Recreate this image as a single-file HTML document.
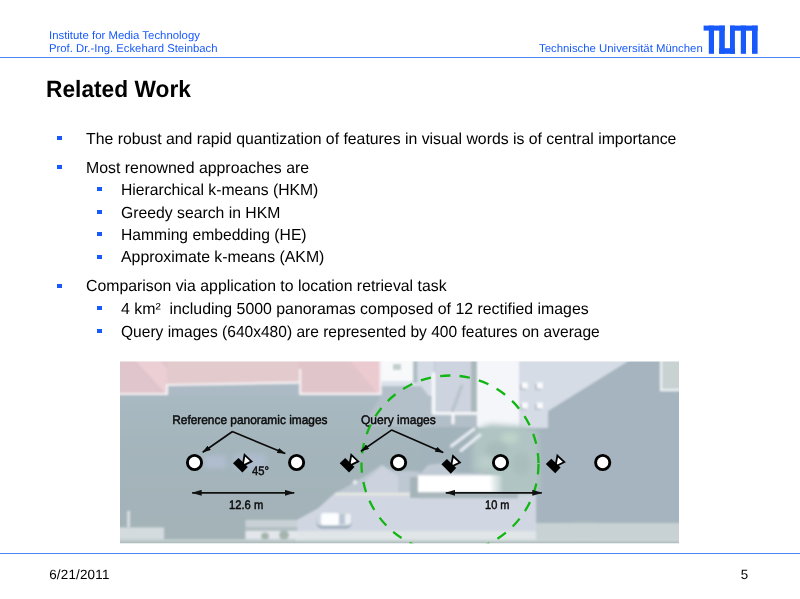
<!DOCTYPE html>
<html><head><meta charset="utf-8">
<style>
html,body{margin:0;padding:0;background:#fff;}
body{width:800px;height:599px;position:relative;overflow:hidden;font-family:"Liberation Sans",sans-serif;color:#000;text-rendering:geometricPrecision;}
.t{position:absolute;white-space:nowrap;line-height:1;}
.hdr{font-size:11.3px;color:#1759fb;transform:scaleX(1.007);transform-origin:0 0;}
.b1{font-size:16px;transform:scaleX(0.9878);transform-origin:0 0;}
.bul{position:absolute;width:4.2px;height:4.2px;margin-left:0.4px;background:#1759fb;}
.hl{position:absolute;left:0;width:800px;height:1.3px;background:#4f86f7;}
#wrap{position:absolute;left:0;top:0;width:800px;height:599px;will-change:transform;}
</style></head><body><div id="wrap">
<div class="t hdr" style="left:48.7px;top:31.3px;">Institute for Media Technology</div>
<div class="t hdr" style="left:48.7px;top:44.3px;transform:scaleX(1.001);">Prof. Dr.-Ing. Eckehard Steinbach</div>
<div class="t hdr" style="left:539px;top:44.3px;">Technische Universität München</div>
<svg style="position:absolute;left:0;top:0" width="800" height="599" viewBox="0 0 800 599">
<defs>
<clipPath id="pc"><rect x="120" y="361.6" width="559" height="181.7"/></clipPath>
<filter id="bl" x="-5%" y="-5%" width="110%" height="110%"><feGaussianBlur stdDeviation="0.9"/></filter>
<filter id="bl2" x="-20%" y="-20%" width="140%" height="140%"><feGaussianBlur stdDeviation="2.5"/></filter>
<marker id="ah" viewBox="0 0 10 6" refX="9.5" refY="3" markerWidth="10" markerHeight="6" orient="auto-start-reverse" markerUnits="userSpaceOnUse"><path d="M0,0 L10,3 L0,6 Z" fill="#111"/></marker>
<linearGradient id="gsh" gradientUnits="userSpaceOnUse" x1="0" y1="394" x2="0" y2="520"><stop offset="0" stop-color="#a9b9c2"/><stop offset="0.4" stop-color="#a5b5bc"/><stop offset="1" stop-color="#a3b3b8"/></linearGradient>
<marker id="ah2" viewBox="0 0 8.6 5.4" refX="8" refY="2.7" markerWidth="8.6" markerHeight="5.4" orient="auto" markerUnits="userSpaceOnUse"><path d="M0,0 L8.6,2.7 L0,5.4 Z" fill="#0a0a0a"/></marker>
<linearGradient id="gtr" x1="0" y1="0" x2="1" y2="0"><stop offset="0" stop-color="#fff"/><stop offset="1" stop-color="#fff" stop-opacity="0.15"/></linearGradient>
<linearGradient id="gbd" gradientUnits="userSpaceOnUse" x1="0" y1="370" x2="0" y2="520"><stop offset="0" stop-color="#a1b1b9"/><stop offset="1" stop-color="#9cabaf"/></linearGradient>
</defs>
<!-- LOGO -->
<g fill="#1759fb">
<rect x="703.6" y="25.6" width="21.2" height="5"/>
<rect x="708.8" y="25.6" width="5.2" height="28.2"/>
<rect x="719.2" y="25.6" width="5.6" height="28.2"/>
<rect x="719.2" y="48.2" width="15.7" height="5.6"/>
<rect x="730.0" y="25.6" width="4.9" height="28.2"/>
<rect x="730.0" y="25.6" width="27.6" height="5.1"/>
<rect x="740.8" y="25.6" width="5.2" height="28.2"/>
<rect x="752.0" y="25.6" width="5.6" height="28.2"/>
</g>
<!-- PHOTO -->
<g clip-path="url(#pc)">
<g filter="url(#bl)">
<!--PS--><rect x="110" y="355" width="580" height="200" fill="url(#gsh)"/>
<!-- bluish window patches near circles -->
<g filter="url(#bl2)" opacity="0.8">
<rect x="204" y="456" width="22" height="12" fill="#b3c0d6"/>
<rect x="234" y="454" width="32" height="16" fill="#afbdd2"/>
</g>
<!-- road / lighter lower area -->
<polygon points="296,520.5 318,508.5 334,494 540,494 540,532 296,532" fill="#d1d7e2"/>
<!-- lighter zone under peaks -->
<polygon points="334,494 364.4,476.6 382.2,464.4 393,471 410,471 420,472 540,472 540,494" fill="#bec8d2"/>
<polygon points="366,480 382.2,466.5 398,476 398,492 366,492" fill="#ccd3df"/>
<circle cx="355" cy="482.2" r="2.2" fill="#e6ecf0"/>
<!-- right dark building -->
<polygon points="536,432 548,411 628,361 690,361 690,523 536,523" fill="#a5b4be"/>
<!-- top middle light zone -->
<rect x="380" y="360" width="33" height="21" fill="#f8f9fb"/>
<rect x="393" y="364" width="8" height="6" fill="#c2cfcb"/>
<rect x="381" y="381" width="40" height="6" fill="#dbe2ea"/>
<rect x="381" y="386.5" width="40" height="10" fill="#b5c2ca"/>
<rect x="413" y="360" width="5" height="23" fill="#afbec3"/>
<rect x="417.5" y="360" width="17" height="36" fill="#d4dbe5"/>
<polygon points="421,386 432,400 432,426 362,426 381,396 381,386" fill="#b3c0c9"/>
<rect x="435" y="360" width="36" height="54" fill="#cdd3df"/>
<path d="M462,385 L452,412" stroke="#b5c3c8" stroke-width="3"/>
<rect x="471" y="360" width="6" height="54" fill="#aab9bb"/>
<rect x="420" y="414" width="57" height="14" fill="#b3bfc8"/>
<rect x="431.7" y="372.5" width="3.6" height="41" fill="#f6f8fa"/>
<rect x="432" y="412" width="46" height="2.8" fill="#f6f8fa"/>
<rect x="451.5" y="414" width="3" height="10" fill="#f6f8fa"/>
<rect x="477" y="360" width="43" height="68" fill="#f5f6fa"/>
<!-- light grey roof right top -->
<polygon points="519,360 630,360 548,411 548,428 519,428" fill="#d5dce6"/>
<rect x="520.0" y="384.0" width="6" height="6" fill="#b4bcc6"/><rect x="521.8" y="382.5" width="6" height="6" fill="#fafbfd"/>
<rect x="535.0" y="384.0" width="6" height="6" fill="#b4bcc6"/><rect x="536.8" y="382.5" width="6" height="6" fill="#fafbfd"/>
<rect x="520.0" y="404.0" width="6" height="6" fill="#b4bcc6"/><rect x="521.8" y="402.5" width="6" height="6" fill="#fafbfd"/>
<rect x="535.0" y="404.0" width="6" height="6" fill="#b4bcc6"/><rect x="536.8" y="402.5" width="6" height="6" fill="#fafbfd"/>
<!-- top right light rect -->
<rect x="661" y="360" width="20" height="30" fill="#c8d2d2"/>
<rect x="660" y="360" width="2.2" height="31" fill="#eef2f4"/>
<rect x="660" y="389" width="20" height="2.2" fill="#eef2f4"/>
<!-- trees -->
<rect x="420" y="427" width="58" height="46" fill="#a3b3bb"/>
<polygon points="420,474 428,465 443,463 456,474" fill="#c0cad4"/>
<g filter="url(#bl2)">
<path d="M474,430 L490,424 L520,426 L538,432 L540,492 L500,496 L486,476 L472,470 Z" fill="#b0c5c3"/>
<ellipse cx="497" cy="450" rx="12" ry="9" fill="#a8bdbb"/>
<ellipse cx="521" cy="464" rx="10" ry="12" fill="#aabfbd"/>
<ellipse cx="510" cy="438" rx="9" ry="6" fill="#bed3c9"/>
<ellipse cx="486" cy="462" rx="7" ry="6" fill="#bccfcc"/>
<ellipse cx="425" cy="537" rx="18" ry="4" fill="#ccd8d0"/>
<ellipse cx="583" cy="533" rx="20" ry="10" fill="#b2c5ba"/>
</g>
<!-- white streaks -->
<path d="M451.5,446 L474,429 M461,450.5 L480,435" stroke="#e6ecf2" stroke-width="3" stroke-linecap="round"/>
<!-- truck -->
<rect x="410" y="477" width="9" height="21" fill="#a5b4b8"/>
<rect x="418" y="475.3" width="72" height="17" fill="#ffffff"/><rect x="489" y="475.3" width="13" height="17" fill="url(#gtr)"/>
<rect x="418" y="492.3" width="100" height="6" fill="#a9b7bd"/>
<!-- curb line -->
<rect x="335" y="492.6" width="75" height="2.8" fill="#e6e8e2"/>
<!-- car -->
<rect x="316.5" y="513" width="35" height="15.5" rx="5" fill="#9aabb9"/>
<rect x="316.5" y="512" width="35" height="14" rx="5" fill="#cfd8e1"/>
<rect x="321" y="513" width="18" height="12" rx="2.5" fill="#fcfdff"/>
<rect x="339" y="514" width="6" height="10" rx="1.5" fill="#b9c6d4"/>
<rect x="345" y="513.5" width="6" height="11" rx="3" fill="#edf1f5"/>
<!-- bottom strip -->
<rect x="296" y="531" width="400" height="13" fill="#e0e5e8"/>
<rect x="536" y="523" width="150" height="20" fill="#c8d2d4"/>
<rect x="110" y="527.5" width="54" height="11.5" fill="#d4dbde"/>
<rect x="127.5" y="511" width="2.2" height="16" fill="#e3e8ea"/>
<rect x="245.5" y="520" width="52" height="7.5" fill="#c9d1d5"/>
<rect x="245.5" y="527.5" width="52" height="3.5" fill="#b2bfc3"/>
<rect x="245.5" y="531" width="52" height="8" fill="#e3e7eb"/>
<ellipse cx="265" cy="536" rx="4" ry="3.5" fill="#a5b5ae"/>
<ellipse cx="284" cy="535" rx="5" ry="4.5" fill="#a5b5ae"/>
<rect x="110" y="539.5" width="580" height="2" fill="#d0d9da"/>
<rect x="110" y="541.5" width="580" height="2.5" fill="#abbaba"/>
<!-- pink roofs -->
<rect x="110" y="384" width="272" height="11" fill="#abbac4"/>
<polygon points="110,355 380,355 380,382 299,382.6 167,385 110,385" fill="#e2cacd"/>
<rect x="110" y="355" width="57" height="39" fill="#e0c6cc"/>
<polygon points="134,361 161,361 167,369 167,393 163,393" fill="#ebcfd4"/><path d="M134,361 L163.5,393" stroke="#d9bfca" stroke-width="1.4"/>
<rect x="299" y="355" width="81" height="39" fill="#e0c5ca"/>
<polygon points="350,361 380,361 380,393 377,393" fill="#ebcad0"/>
<path d="M110,394 H167 V385 L299,382.6 M300.2,369 V393.8 H380.6 V361" stroke="#f5f0f3" stroke-width="2.2" fill="none"/>
<!--/PS-->
</g>
</g>
<!-- OVERLAY -->
<g id="ov">
<!--OV--><!-- green dashed circle -->
<g clip-path="url(#pc)">
<g fill="none" stroke="#12b612" stroke-width="2.3">
<path d="M538.5,464 A88.5,88.5 0 0 1 449.02,552.49" stroke-dasharray="10.4 9.2"/>
<path d="M449.02,552.49 A88.5,88.5 0 1 1 538.5,464" stroke-dasharray="10.4 9.27" stroke-dashoffset="-10.9"/>
</g>
</g>
<!-- label arrows -->
<g stroke="#0a0a0a" stroke-width="1.65" fill="none">
<path d="M232.5,431.5 L202.75,452.25" marker-end="url(#ah2)"/>
<path d="M232.2,431.5 L285.25,453.5" marker-end="url(#ah2)"/>
<path d="M391.9,429.9 L361,451.25" marker-end="url(#ah2)"/>
<path d="M391.6,429.9 L443.2,452.4" marker-end="url(#ah2)"/>
</g>
<!-- dimension arrows -->
<g stroke="#111" stroke-width="1.8" fill="none">
<path d="M192.2,492.8 H294.2" marker-start="url(#ah)" marker-end="url(#ah)"/>
<path d="M445.8,492.8 H541.8" marker-start="url(#ah)" marker-end="url(#ah)"/>
</g>
<!-- circles -->
<g fill="#fff" stroke="#000" stroke-width="2.9">
<circle cx="194.5" cy="462.5" r="7.1"/>
<circle cx="296.6" cy="462.5" r="7.1"/>
<circle cx="398.6" cy="462.5" r="7.1"/>
<circle cx="500.5" cy="462.5" r="7.1"/>
<circle cx="602.7" cy="462.5" r="7.1"/>
</g>
<!-- cameras -->
<g id="cam">
<polygon points="244.6,454.9 251.5,461.4 242.6,465.8" fill="#fff" stroke="#000" stroke-width="1.8" stroke-linejoin="miter"/>
<polygon points="233.0,463.2 238.5,458.0 247.8,466.9 242.4,472.6" fill="#000"/>
</g>
<use href="#cam" x="106.7"/>
<use href="#cam" x="208.4" y="1.1"/>
<use href="#cam" x="312.8" y="0.7"/>
<!-- labels -->
<g font-family="Liberation Sans, sans-serif" font-size="12.4" fill="#0a0a0a" stroke="#0a0a0a" stroke-width="0.45">
<text x="172.2" y="424.2" textLength="155.3" lengthAdjust="spacingAndGlyphs">Reference panoramic images</text>
<text x="361.0" y="424.2" textLength="74.8" lengthAdjust="spacingAndGlyphs">Query images</text>
<text x="252" y="474.7" textLength="17" lengthAdjust="spacingAndGlyphs">45°</text>
<text x="229" y="509" textLength="34.3" lengthAdjust="spacingAndGlyphs">12.6 m</text>
<text x="485" y="509" textLength="24.5" lengthAdjust="spacingAndGlyphs">10 m</text>
</g>
<!--/OV-->
</g>
</svg>
<div class="hl" style="top:56.6px;"></div>
<div class="hl" style="top:552.6px;"></div>
<div class="t" style="left:45.9px;top:79.1px;font-size:23.6px;font-weight:bold;transform:scaleX(0.964);transform-origin:0 0;">Related Work</div>

<div class="bul" style="left:57px;top:136px;"></div>
<div class="t b1" style="left:86px;top:132px;">The robust and rapid quantization of features in visual words is of central importance</div>
<div class="bul" style="left:57px;top:165px;"></div>
<div class="t b1" style="left:86px;top:161px;transform:scaleX(0.9916);">Most renowned approaches are</div>
<div class="bul" style="left:97px;top:187px;"></div>
<div class="t b1" style="left:121px;top:183px;transform:scaleX(0.9818);">Hierarchical k-means (HKM)</div>
<div class="bul" style="left:97px;top:210px;"></div>
<div class="t b1" style="left:121px;top:206px;transform:scaleX(0.9840);">Greedy search in HKM</div>
<div class="bul" style="left:97px;top:232px;"></div>
<div class="t b1" style="left:121px;top:228px;transform:scaleX(0.9798);">Hamming embedding (HE)</div>
<div class="bul" style="left:97px;top:254.5px;"></div>
<div class="t b1" style="left:121px;top:250px;transform:scaleX(0.9903);">Approximate k-means (AKM)</div>
<div class="bul" style="left:57px;top:284px;"></div>
<div class="t b1" style="left:86px;top:279.2px;transform:scaleX(0.9888);">Comparison via application to location retrieval task</div>
<div class="bul" style="left:97px;top:306px;"></div>
<div class="t b1" style="left:121px;top:302px;transform:scaleX(0.9921);">4 km²&nbsp; including 5000 panoramas composed of 12 rectified images</div>
<div class="bul" style="left:97px;top:329px;"></div>
<div class="t b1" style="left:121px;top:325px;transform:scaleX(0.9716);">Query images (640x480) are represented by 400 features on average</div>

<div class="t" style="left:49.2px;top:568px;font-size:13.4px;letter-spacing:0.2px;">6/21/2011</div>
<div class="t" style="left:740.8px;top:567.6px;font-size:13.4px;">5</div>
</div></body></html>
